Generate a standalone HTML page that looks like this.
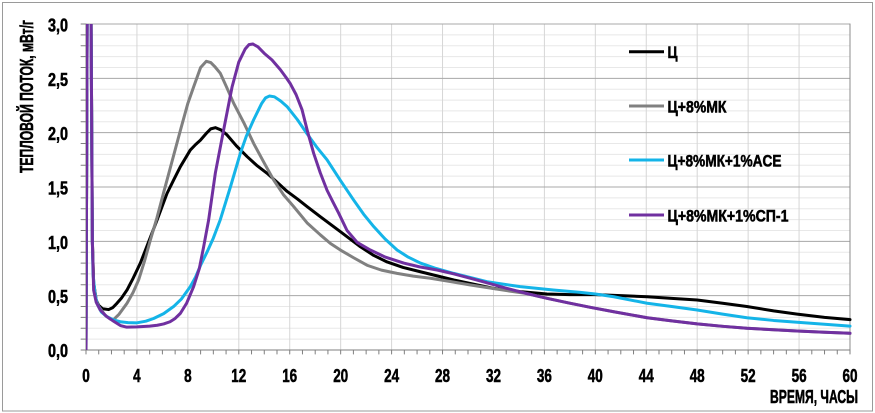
<!DOCTYPE html>
<html>
<head>
<meta charset="utf-8">
<style>
  html,body{margin:0;padding:0;background:#fff;}
  svg{display:block;}
  text{font-family:"Liberation Sans Narrow","Liberation Sans","DejaVu Sans",sans-serif;font-weight:bold;fill:#000;stroke:#000;stroke-width:0.55px;}
</style>
</head>
<body>
<svg width="875" height="413" viewBox="0 0 875 413" xmlns="http://www.w3.org/2000/svg">
  <rect x="0" y="0" width="875" height="413" fill="#fff"/>
  <rect x="2.5" y="2.5" width="870" height="408.5" fill="none" stroke="#9a9a9a" stroke-width="1"/>
  <defs>
    <clipPath id="pc" clipPathUnits="userSpaceOnUse">
      <rect x="0" y="0" width="60.2" height="3"/>
    </clipPath>
  </defs>
  <g transform="translate(86 350) scale(12.7333 -108.667)" fill="none" stroke-linejoin="round" stroke-linecap="round">
    <path vector-effect="non-scaling-stroke" stroke="#e8e8e8" stroke-width="1" d="M0,0.1H60M0,0.2H60M0,0.3H60M0,0.4H60M0,0.6H60M0,0.7H60M0,0.8H60M0,0.9H60M0,1.1H60M0,1.2H60M0,1.3H60M0,1.4H60M0,1.6H60M0,1.7H60M0,1.8H60M0,1.9H60M0,2.1H60M0,2.2H60M0,2.3H60M0,2.4H60M0,2.6H60M0,2.7H60M0,2.8H60M0,2.9H60"/>
    <path vector-effect="non-scaling-stroke" stroke="#d6d6d6" stroke-width="1" d="M4,0V3M8,0V3M12,0V3M16,0V3M20,0V3M24,0V3M28,0V3M32,0V3M36,0V3M40,0V3M44,0V3M48,0V3M52,0V3M56,0V3"/>
    <path vector-effect="non-scaling-stroke" stroke="#a8a8a8" stroke-width="1" d="M0,0.5H60M0,1H60M0,1.5H60M0,2H60M0,2.5H60M0,3H60"/>
    <path vector-effect="non-scaling-stroke" stroke="#8c8c8c" stroke-width="1" d="M60,0V3"/>
    <path vector-effect="non-scaling-stroke" stroke="#7f7f7f" stroke-width="1" d="M0,0V3M0,0H60"/>
    <path vector-effect="non-scaling-stroke" stroke="#7f7f7f" stroke-width="1" d="M0,0V-0.037M1,0V-0.037M2,0V-0.037M3,0V-0.037M4,0V-0.037M5,0V-0.037M6,0V-0.037M7,0V-0.037M8,0V-0.037M9,0V-0.037M10,0V-0.037M11,0V-0.037M12,0V-0.037M13,0V-0.037M14,0V-0.037M15,0V-0.037M16,0V-0.037M17,0V-0.037M18,0V-0.037M19,0V-0.037M20,0V-0.037M21,0V-0.037M22,0V-0.037M23,0V-0.037M24,0V-0.037M25,0V-0.037M26,0V-0.037M27,0V-0.037M28,0V-0.037M29,0V-0.037M30,0V-0.037M31,0V-0.037M32,0V-0.037M33,0V-0.037M34,0V-0.037M35,0V-0.037M36,0V-0.037M37,0V-0.037M38,0V-0.037M39,0V-0.037M40,0V-0.037M41,0V-0.037M42,0V-0.037M43,0V-0.037M44,0V-0.037M45,0V-0.037M46,0V-0.037M47,0V-0.037M48,0V-0.037M49,0V-0.037M50,0V-0.037M51,0V-0.037M52,0V-0.037M53,0V-0.037M54,0V-0.037M55,0V-0.037M56,0V-0.037M57,0V-0.037M58,0V-0.037M59,0V-0.037M60,0V-0.037"/>
    <path vector-effect="non-scaling-stroke" stroke="#7f7f7f" stroke-width="1" d="M0,0H-0.39M0,0.1H-0.39M0,0.2H-0.39M0,0.3H-0.39M0,0.4H-0.39M0,0.5H-0.39M0,0.6H-0.39M0,0.7H-0.39M0,0.8H-0.39M0,0.9H-0.39M0,1H-0.39M0,1.1H-0.39M0,1.2H-0.39M0,1.3H-0.39M0,1.4H-0.39M0,1.5H-0.39M0,1.6H-0.39M0,1.7H-0.39M0,1.8H-0.39M0,1.9H-0.39M0,2H-0.39M0,2.1H-0.39M0,2.2H-0.39M0,2.3H-0.39M0,2.4H-0.39M0,2.5H-0.39M0,2.6H-0.39M0,2.7H-0.39M0,2.8H-0.39M0,2.9H-0.39M0,3H-0.39"/>

    <g clip-path="url(#pc)">
      <path vector-effect="non-scaling-stroke" stroke="#000000" stroke-width="3" d="M0,0 L0.06,2 L0.1,3.4 L0.38,3.4 L0.44,2.2 L0.5,1.0 L0.6,0.62 L0.8,0.46 L1.0,0.41 L1.3,0.38 L1.78,0.372 L2.1,0.39 L2.43,0.43 L2.8,0.48 L3.22,0.552 L3.7,0.66 L4.27,0.80 L4.9,0.99 L5.58,1.196 L6.36,1.44 L6.88,1.564 L7.41,1.687 L8.19,1.84 L8.6,1.89 L8.98,1.93 L9.5,2.0 L9.8,2.035 L10.16,2.046 L10.6,2.025 L11.07,1.98 L11.8,1.88 L12.65,1.78 L13.4,1.70 L14.22,1.626 L15.0,1.545 L15.79,1.46 L16.6,1.39 L17.36,1.32 L18.4,1.227 L19.98,1.089 L21.55,0.95 L22.6,0.87 L23.65,0.81 L24.9,0.76 L26.26,0.72 L28.88,0.644 L32.0,0.567 L34.1,0.537 L36.2,0.515 L38,0.51 L40,0.51 L42,0.50 L44.07,0.49 L46,0.475 L48,0.46 L50,0.43 L51.9,0.40 L54,0.36 L55.85,0.33 L58,0.30 L60,0.28"/>
      <path vector-effect="non-scaling-stroke" stroke="#808080" stroke-width="3" d="M0,0 L0.06,2 L0.1,3.4 L0.38,3.4 L0.44,2.2 L0.5,1.0 L0.6,0.62 L0.8,0.46 L1.0,0.40 L1.5,0.32 L1.9,0.285 L2.17,0.28 L2.6,0.33 L3.22,0.43 L3.7,0.53 L4.13,0.644 L4.6,0.82 L5.05,1.01 L5.58,1.22 L6.1,1.45 L6.49,1.62 L7.41,2.02 L8.0,2.27 L8.45,2.42 L9.0,2.6 L9.45,2.657 L9.8,2.645 L10.1,2.61 L10.55,2.546 L11.0,2.43 L11.6,2.27 L12.4,2.09 L13.17,1.90 L14.0,1.72 L14.74,1.564 L15.5,1.43 L16.31,1.32 L17.36,1.17 L18.4,1.06 L19.2,0.98 L19.98,0.92 L21,0.85 L22.07,0.78 L23.2,0.735 L24.43,0.705 L25.7,0.68 L27.05,0.66 L28.6,0.63 L30.2,0.598 L33.07,0.546 L34.6,0.52 L36.2,0.476 L37.9,0.433 L39.6,0.393 L41.45,0.352 L44.07,0.297 L46,0.268 L48,0.24 L50,0.218 L51.9,0.20 L54,0.186 L55.85,0.175 L58,0.163 L60,0.154"/>
      <path vector-effect="non-scaling-stroke" stroke="#14b4e8" stroke-width="3" d="M0,0 L0.06,2 L0.1,3.4 L0.38,3.4 L0.44,2.2 L0.5,1.0 L0.55,0.70 L0.7,0.52 L0.86,0.43 L1.2,0.35 L1.65,0.306 L2.2,0.275 L2.69,0.26 L3.3,0.252 L4.0,0.25 L4.7,0.265 L5.31,0.29 L6.1,0.335 L6.88,0.40 L7.5,0.47 L8.19,0.583 L8.6,0.67 L9.0,0.78 L9.5,0.90 L10.0,1.03 L10.55,1.2 L11.34,1.5 L12.12,1.81 L12.6,1.97 L13.17,2.12 L13.8,2.27 L14.1,2.32 L14.4,2.337 L14.8,2.33 L15.3,2.29 L15.79,2.24 L16.6,2.12 L17.36,1.99 L18.1,1.87 L18.93,1.75 L19.98,1.56 L21.02,1.38 L21.8,1.25 L22.6,1.135 L23.5,1.02 L24.43,0.92 L25.3,0.855 L26.26,0.80 L27.5,0.75 L28.88,0.705 L31.5,0.628 L34.1,0.583 L36.7,0.552 L38.83,0.53 L40,0.515 L41.45,0.49 L44.07,0.43 L46,0.40 L48,0.368 L50,0.33 L51.9,0.297 L54,0.272 L55.85,0.255 L58,0.237 L60,0.22"/>
      <path vector-effect="non-scaling-stroke" stroke="#7030a0" stroke-width="3" d="M0,0 L0.06,2 L0.1,3.4 L0.38,3.4 L0.44,2.2 L0.5,1.0 L0.6,0.55 L0.8,0.44 L1.12,0.368 L1.6,0.31 L2.17,0.265 L2.7,0.225 L3.2,0.21 L4.0,0.213 L5.0,0.22 L5.6,0.228 L6.1,0.24 L6.6,0.26 L7.0,0.29 L7.41,0.337 L7.9,0.43 L8.45,0.583 L8.9,0.75 L9.24,0.95 L9.63,1.196 L10.16,1.63 L10.8,2.02 L11.47,2.42 L12.0,2.65 L12.5,2.77 L12.8,2.81 L13.1,2.816 L13.5,2.79 L14.0,2.73 L14.6,2.67 L15.26,2.58 L15.7,2.51 L16.05,2.45 L16.5,2.35 L16.97,2.21 L17.4,2.01 L17.88,1.81 L18.4,1.63 L18.93,1.47 L19.4,1.36 L19.84,1.26 L20.5,1.10 L21.3,0.99 L22.33,0.92 L23.5,0.855 L24.95,0.80 L26.2,0.765 L27.57,0.736 L28.9,0.70 L30.2,0.66 L31.6,0.615 L33.07,0.567 L34.6,0.52 L36.2,0.476 L37.9,0.433 L39.6,0.393 L41.45,0.352 L44.07,0.297 L46,0.268 L48,0.24 L50,0.218 L51.9,0.20 L54,0.186 L55.85,0.175 L58,0.163 L60,0.154"/>
    </g>
  </g>

  <g font-size="18" text-anchor="end">
    <text x="68" y="31.5" textLength="20" lengthAdjust="spacingAndGlyphs">3,0</text>
    <text x="68" y="85.8" textLength="20" lengthAdjust="spacingAndGlyphs">2,5</text>
    <text x="68" y="140.2" textLength="20" lengthAdjust="spacingAndGlyphs">2,0</text>
    <text x="68" y="194.5" textLength="20" lengthAdjust="spacingAndGlyphs">1,5</text>
    <text x="68" y="248.8" textLength="20" lengthAdjust="spacingAndGlyphs">1,0</text>
    <text x="68" y="303.2" textLength="20" lengthAdjust="spacingAndGlyphs">0,5</text>
    <text x="68" y="357" textLength="20" lengthAdjust="spacingAndGlyphs">0,0</text>
  </g>

  <g font-size="18" text-anchor="middle">
    <text x="86" y="382" textLength="7.5" lengthAdjust="spacingAndGlyphs">0</text>
    <text x="136.9" y="382" textLength="7.5" lengthAdjust="spacingAndGlyphs">4</text>
    <text x="187.9" y="382" textLength="7.5" lengthAdjust="spacingAndGlyphs">8</text>
    <text x="238.8" y="382" textLength="15" lengthAdjust="spacingAndGlyphs">12</text>
    <text x="289.7" y="382" textLength="15" lengthAdjust="spacingAndGlyphs">16</text>
    <text x="340.7" y="382" textLength="15" lengthAdjust="spacingAndGlyphs">20</text>
    <text x="391.6" y="382" textLength="15" lengthAdjust="spacingAndGlyphs">24</text>
    <text x="442.5" y="382" textLength="15" lengthAdjust="spacingAndGlyphs">28</text>
    <text x="493.5" y="382" textLength="15" lengthAdjust="spacingAndGlyphs">32</text>
    <text x="544.4" y="382" textLength="15" lengthAdjust="spacingAndGlyphs">36</text>
    <text x="595.3" y="382" textLength="15" lengthAdjust="spacingAndGlyphs">40</text>
    <text x="646.3" y="382" textLength="15" lengthAdjust="spacingAndGlyphs">44</text>
    <text x="697.2" y="382" textLength="15" lengthAdjust="spacingAndGlyphs">48</text>
    <text x="748.1" y="382" textLength="15" lengthAdjust="spacingAndGlyphs">52</text>
    <text x="799.1" y="382" textLength="15" lengthAdjust="spacingAndGlyphs">56</text>
    <text x="850" y="382" textLength="15" lengthAdjust="spacingAndGlyphs">60</text>
  </g>

  <text font-size="18" x="858" y="403" text-anchor="end" textLength="88" lengthAdjust="spacingAndGlyphs">ВРЕМЯ, ЧАСЫ</text>
  <text font-size="18" transform="translate(33 96.5) rotate(-90)" text-anchor="middle" textLength="153" lengthAdjust="spacingAndGlyphs">ТЕПЛОВОЙ ПОТОК, мВт/г</text>

  <g stroke-width="3" fill="none">
    <line x1="629" y1="51.7" x2="664" y2="51.7" stroke="#000000"/>
    <line x1="629" y1="106" x2="664" y2="106" stroke="#808080"/>
    <line x1="629" y1="160" x2="664" y2="160" stroke="#14b4e8"/>
    <line x1="629" y1="215" x2="664" y2="215" stroke="#7030a0"/>
  </g>
  <g font-size="17">
    <text x="667.5" y="58" textLength="10" lengthAdjust="spacingAndGlyphs">Ц</text>
    <text x="667.5" y="112.5" textLength="59" lengthAdjust="spacingAndGlyphs">Ц+8%МК</text>
    <text x="667.5" y="166.5" textLength="114" lengthAdjust="spacingAndGlyphs">Ц+8%МК+1%ACE</text>
    <text x="667.5" y="221.5" textLength="121" lengthAdjust="spacingAndGlyphs">Ц+8%МК+1%СП-1</text>
  </g>
</svg>
</body>
</html>
